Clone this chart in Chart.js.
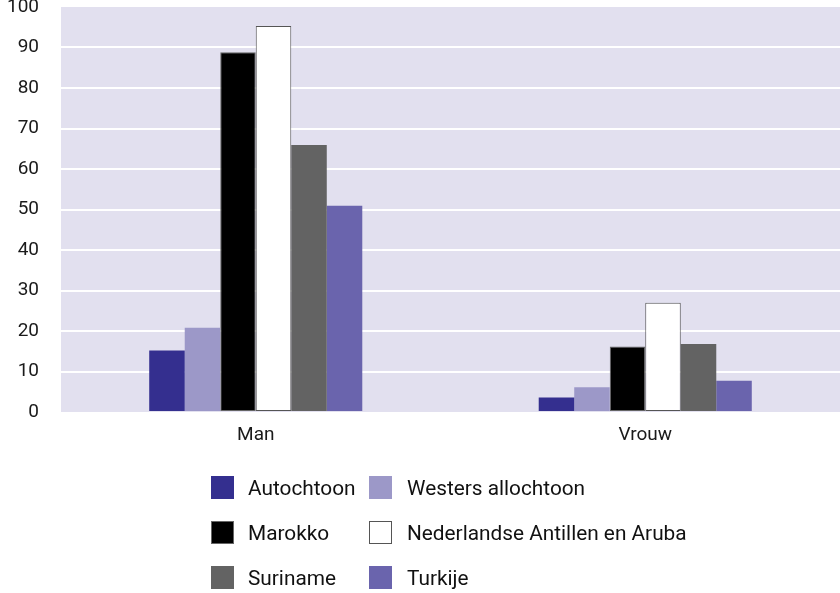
<!DOCTYPE html>
<html>
<head>
<meta charset="utf-8">
<script src="https://cdn.jsdelivr.net/npm/chart.js@4"></script>
<style>
  html, body { margin: 0; padding: 0; background: #fff; }
  #wrap { position: relative; width: 840px; height: 593px; }
  #legend { position: absolute; left: 211px; top: 476px; font-family: Roboto, sans-serif; font-size: 20.8px; color: #111; }
  .item { position: absolute; height: 23px; white-space: nowrap; }
  .box { position: absolute; left: 0; top: 0; width: 23px; height: 23px; box-sizing: border-box; }
  .lbl { position: absolute; top: 1px; line-height: 23px; }
</style>
</head>
<body>
<div id="wrap">
  <canvas id="grafiek" width="840" height="593"></canvas>
  <div id="legend"></div>
</div>
<script>
// categorieën en waarden per groep
const categories = ['Man', 'Vrouw'];
const yTicks = [0, 10, 20, 30, 40, 50, 60, 70, 80, 90, 100];

const autochtoon = [15.2, 3.6];
const westersAllochtoon = [20.8, 6.1];
const marokko = [88.8, 16.2];
const antillenAruba = [95.3, 27.0];
const suriname = [65.9, 16.8];
const turkije = [50.9, 7.7];

const seriesNames = ['Autochtoon', 'Westers allochtoon', 'Marokko', 'Nederlandse Antillen en Aruba', 'Suriname', 'Turkije'];
const seriesValues = [autochtoon, westersAllochtoon, marokko, antillenAruba, suriname, turkije];
const seriesColors = ['#342f8f', '#9c98c8', '#000000', '#ffffff', '#636363', '#6a64ad'];
const seriesBorders = [null, null, '#666666', '#555555', null, null];

// achtergrond van het plotgebied
const plotBackground = {
  id: 'plotBackground',
  beforeDraw(chart) {
    const { ctx, chartArea: a } = chart;
    ctx.save();
    ctx.fillStyle = '#e2e0ef';
    ctx.fillRect(a.left, a.top, a.right - a.left, a.bottom - a.top);
    ctx.restore();
  }
};

const datasets = seriesNames.map((name, i) => ({
  label: name,
  data: seriesValues[i],
  backgroundColor: seriesColors[i],
  borderColor: seriesBorders[i] || seriesColors[i],
  borderWidth: seriesBorders[i] ? 1 : 0,
  borderSkipped: false
}));

new Chart(document.getElementById('grafiek'), {
  type: 'bar',
  data: { labels: categories, datasets: datasets },
  plugins: [plotBackground],
  options: {
    responsive: false,
    animation: false,
    layout: { padding: { top: 7, right: 0, bottom: 141, left: 0 } },
    datasets: { bar: { categoryPercentage: 0.547, barPercentage: 1 } },
    scales: {
      x: {
        grid: { display: false, drawTicks: false },
        border: { display: false },
        ticks: { color: '#1a1a1a', font: { family: 'Roboto', size: 19 }, padding: 12 },
        afterFit(scale) { scale.height = 40; }
      },
      y: {
        min: 0,
        max: 100,
        afterBuildTicks(scale) { scale.ticks = yTicks.map(v => ({ value: v })); },
        grid: {
          drawTicks: false,
          lineWidth: 2,
          color: ctx => (ctx.tick && (ctx.tick.value === 0 || ctx.tick.value === 100)) ? 'rgba(0,0,0,0)' : '#ffffff'
        },
        border: { display: false },
        ticks: { color: '#1a1a1a', font: { family: 'Roboto', size: 19 }, padding: 22 },
        afterFit(scale) {
          scale.width = 61;
          scale.paddingTop = 0;
          scale.paddingBottom = 0;
        }
      }
    },
    plugins: {
      legend: { display: false },
      tooltip: { enabled: false }
    }
  }
});

// legenda in twee kolommen
const legend = document.getElementById('legend');
seriesNames.forEach((name, i) => {
  const item = document.createElement('div');
  item.className = 'item';
  item.style.left = (i % 2) * 158 + 'px';
  item.style.top = Math.floor(i / 2) * 45 + 'px';
  const box = document.createElement('div');
  box.className = 'box';
  box.style.background = seriesColors[i];
  if (seriesBorders[i]) box.style.border = '1.5px solid ' + seriesBorders[i];
  const lbl = document.createElement('span');
  lbl.className = 'lbl';
  lbl.style.left = (i % 2 ? 38 : 37) + 'px';
  lbl.textContent = name;
  item.appendChild(box);
  item.appendChild(lbl);
  legend.appendChild(item);
});
</script>
</body>
</html>
